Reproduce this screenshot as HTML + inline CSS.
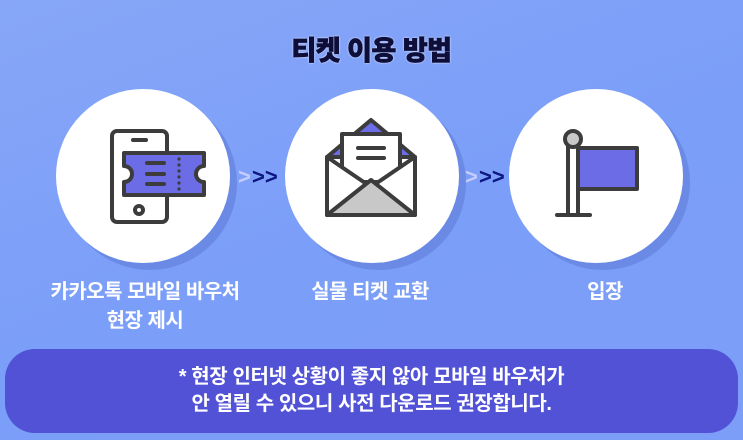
<!DOCTYPE html>
<html><head><meta charset="utf-8"><style>
body{margin:0;width:743px;height:440px;overflow:hidden;font-family:"Liberation Sans","Noto Sans CJK KR",sans-serif;}
.bg{position:absolute;left:0;top:0;width:743px;height:440px;background:linear-gradient(160deg,#87a6f7 0%,#7b9ef8 50%,#7c9ef8 100%);}
.t{position:absolute;color:#fff;font-weight:bold;font-size:20px;text-align:center;line-height:29px;letter-spacing:-0.5px;}
.title{position:absolute;left:0;width:743px;top:29px;text-align:center;font-size:27px;font-weight:900;color:#0e0e3a;-webkit-text-stroke:0.7px #0e0e3a;text-shadow:0 0 2px #dfe4ff,0 0 2px #dfe4ff;letter-spacing:-0.5px;}
.box{position:absolute;left:5px;top:349px;width:733px;height:84px;border-radius:30px;background:#5152d6;color:#fff;font-weight:bold;font-size:20px;text-align:center;line-height:27px;padding-top:15px;box-sizing:border-box;letter-spacing:-0.4px;}
</style></head><body>
<div class="bg"></div>
<svg style="position:absolute;left:0;top:0" width="743" height="440">
<g fill="#6a8ae6"><circle cx="150" cy="183" r="87"/><circle cx="379" cy="183" r="87"/><circle cx="603" cy="183" r="87"/></g>
<g fill="#fff"><circle cx="143" cy="176" r="87"/><circle cx="372" cy="176" r="87"/><circle cx="596" cy="176" r="87"/></g>
<g font-family="Liberation Sans" font-weight="bold" font-size="22">
<text x="238" y="184" fill="#c6ccff">&gt;</text><text x="252" y="184" fill="#0d1580">&gt;&gt;</text>
<text x="465" y="184" fill="#c6ccff">&gt;</text><text x="479" y="184" fill="#0d1580">&gt;&gt;</text>
</g>
<g stroke="#3c3c3c" stroke-width="4" stroke-linejoin="round" stroke-linecap="round">
<rect x="112" y="131" width="55" height="91" rx="5" fill="#fff"/>
<line x1="133" y1="140" x2="146" y2="140"/>
<circle cx="139" cy="210" r="4" fill="#fff"/>
<path d="M124 153 H204 V166 A7 7 0 0 0 204 182 V195 H124 V182 A7 7 0 0 0 124 166 Z" fill="#6c6ce6"/>
<line x1="147" y1="163" x2="164" y2="163"/><line x1="147" y1="174" x2="164" y2="174"/><line x1="147" y1="184" x2="164" y2="184"/>
</g>
<g fill="#3c3c3c"><circle cx="179" cy="159" r="1.6"/><circle cx="179" cy="165" r="1.6"/><circle cx="179" cy="171" r="1.6"/><circle cx="179" cy="177" r="1.6"/><circle cx="179" cy="183" r="1.6"/><circle cx="179" cy="189" r="1.6"/></g>
<g stroke="#3c3c3c" stroke-width="4" stroke-linejoin="round" stroke-linecap="round">
<path d="M327 157 L371 120 L415 157 Z" fill="#6c6ce6"/>
<rect x="342" y="134" width="58" height="48" fill="#fff"/>
<line x1="358" y1="148" x2="384" y2="148"/><line x1="358" y1="158" x2="384" y2="158"/>
<path d="M327 157 L327 215 L415 215 L415 157 L371 187 Z" fill="#fff"/>
<path d="M327 215 L371 180 L415 215 Z" fill="#c8c8c8"/>
</g>
<g stroke="#3c3c3c" stroke-width="4" stroke-linejoin="round" stroke-linecap="round">
<rect x="568" y="145" width="10" height="70" fill="#fff"/>
<rect x="578" y="148" width="59" height="41" fill="#6c6ce6"/>
<line x1="557" y1="215" x2="590" y2="215"/>
<circle cx="573" cy="139" r="8" fill="#c8c8c8"/>
</g>
</svg>
<div class="title">티켓 이용 방법</div>
<div class="t" style="left:25px;width:240px;top:278px">카카오톡 모바일 바우처<br>현장 제시</div>
<div class="t" style="left:270px;width:200px;top:278px">실물 티켓 교환</div>
<div class="t" style="left:505px;width:200px;top:278px">입장</div>
<div class="box">* 현장 인터넷 상황이 좋지 않아 모바일 바우처가<br>안 열릴 수 있으니 사전 다운로드 권장합니다.</div>
</body></html>
